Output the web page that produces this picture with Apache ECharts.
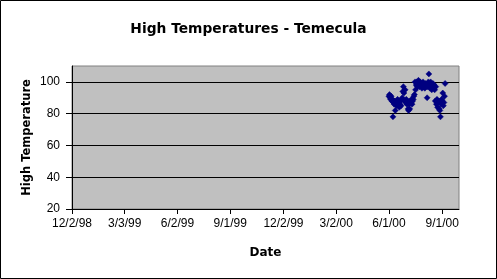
<!DOCTYPE html>
<html>
<head>
<meta charset="utf-8">
<script src="https://cdn.jsdelivr.net/npm/echarts@6/dist/echarts.min.js"></script>
<style>
html,body{margin:0;padding:0;background:#fff;}
#c{width:497px;height:279px;}
</style>
</head>
<body>
<div id="c"></div>
<script>
// Tick labels on the date axis (m/d/yy)
var xTickLabels = ['12/2/98', '3/3/99', '6/2/99', '9/1/99', '12/2/99', '3/2/00', '6/1/00', '9/1/00'];
var yTicks = [20, 40, 60, 80, 100];
// Daily high temperatures, one per day starting at startDate
var startDate = '6/1/00';
var highTemps = [
  91, 92, 90, 89, 91, 88, 89, 78, 87, 86,
  88, 82, 87, 85, 86, 89, 85, 87, 84, 86,
  88, 85, 89, 90, 94, 97, 93, 88, 95, 87,
  89, 86, 88, 83, 82, 86, 83, 88, 87, 89,
  86, 88, 89, 91, 92, 100, 95, 98, 100, 97,
  99, 101, 98, 97, 100, 99, 98, 96, 99, 100,
  97, 98, 96, 99, 97, 98, 90, 97, 100, 105,
  99, 96, 100, 98, 95, 97, 99, 96, 98, 95,
  88, 97, 86, 89, 84, 87, 88, 83, 82, 78,
  86, 89, 88, 93, 85, 87, 91, 99
];

function parseMDY(s) {
  var p = s.split('/');
  var y = +p[2]; y += (y < 50 ? 2000 : 1900);
  return Date.UTC(y, +p[0] - 1, +p[1]);
}
var DAY = 86400000;
var base = parseMDY(xTickLabels[0]);
var xTickVals = xTickLabels.map(function (s) { return Math.round((parseMDY(s) - base) / DAY); });
var start = Math.round((parseMDY(startDate) - base) / DAY);
var points = highTemps.map(function (v, i) { return [start + i, v]; });

var chart = echarts.init(document.getElementById('c'), null, {renderer: 'canvas'});
var font = 'Liberation Sans, Arial, sans-serif';
var boldFont = 'DejaVu Sans, Liberation Sans, sans-serif';
chart.setOption({
  animation: false,
  backgroundColor: '#fff',
  textStyle: {fontFamily: font},
  title: {
    text: 'High Temperatures - Temecula',
    left: 'center', top: 17,
    textStyle: {fontFamily: boldFont, fontSize: 13.8, fontWeight: 'bold', color: '#000'}
  },
  graphic: [{
    type: 'rect', silent: true, z: 100,
    shape: {x: 0.5, y: 0.5, width: 496, height: 278},
    style: {fill: 'none', stroke: '#000', lineWidth: 1}
  }],
  grid: {
    left: 72, top: 66, right: 38, bottom: 70,
    show: true, backgroundColor: '#C0C0C0', borderColor: '#808080', borderWidth: 1
  },
  xAxis: {
    type: 'value', min: 0, max: 668,
    name: 'Date', nameLocation: 'middle', nameGap: 38,
    nameTextStyle: {fontFamily: boldFont, fontSize: 12, fontWeight: 'bold', color: '#000'},
    axisLine: {show: true, lineStyle: {color: '#000', width: 1}},
    axisTick: {show: true, length: 5, lineStyle: {color: '#000'}, customValues: xTickVals},
    axisLabel: {
      customValues: xTickVals, color: '#000', fontSize: 12, fontFamily: font, margin: 9,
      formatter: function (v) { var i = xTickVals.indexOf(v); return i >= 0 ? xTickLabels[i] : ''; }
    },
    splitLine: {show: false}
  },
  yAxis: {
    type: 'value', min: 20, max: 110, interval: 20,
    name: 'High Temperature', nameLocation: 'middle', nameGap: 39, nameRotate: 90,
    nameMoveOverlap: false,
    nameTextStyle: {fontFamily: boldFont, fontSize: 11.5, fontWeight: 'bold', color: '#000'},
    axisLine: {show: true, lineStyle: {color: '#000', width: 1}},
    axisTick: {show: true, length: 6, lineStyle: {color: '#000'}, customValues: yTicks},
    axisLabel: {customValues: yTicks, color: '#000', fontSize: 12, fontFamily: font, margin: 12},
    splitLine: {show: true, lineStyle: {color: ['#000', '#000', '#000', '#000', '#000', '#808080'], width: 1}}
  },
  series: [{
    type: 'scatter',
    data: points,
    symbol: 'diamond',
    symbolSize: 6,
    itemStyle: {color: '#000080', borderColor: '#000080', borderWidth: 0.5, opacity: 1}
  }]
});
</script>
</body>
</html>
